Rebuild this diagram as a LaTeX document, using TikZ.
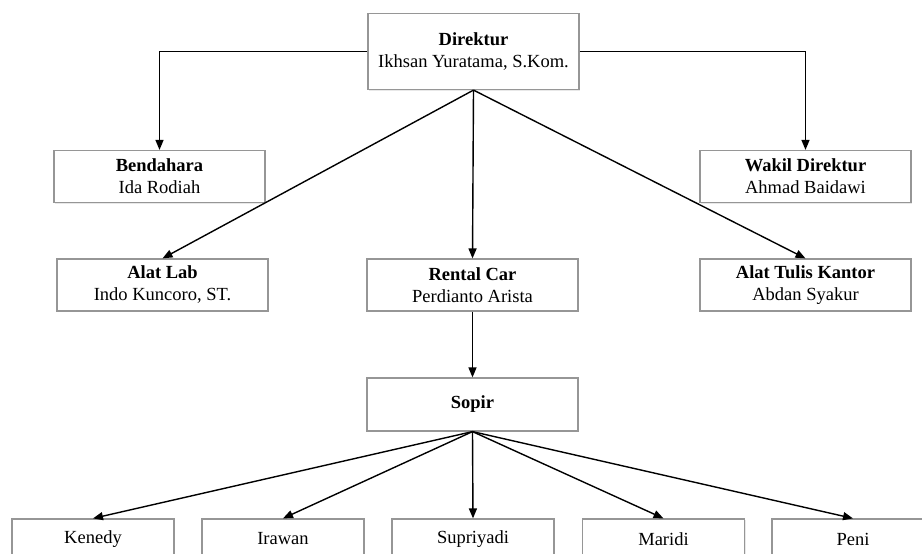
\documentclass[tikz,border=0pt]{standalone}
\usepackage{fontspec}
\setmainfont{Liberation Serif}
\usetikzlibrary{arrows.meta,shadows}
\definecolor{boxline}{RGB}{150,150,150}
\tikzset{
  orgbox/.style={draw=boxline, line width=1.2pt, fill=white, rectangle,
    minimum width=211pt, minimum height=52pt, align=center, inner sep=0pt,
    font=\fontsize{18.5}{22}\selectfont,
    drop shadow={opacity=0.18, shadow xshift=1.2pt, shadow yshift=-1.2pt}},
  staffbox/.style={orgbox, minimum width=162pt, minimum height=40pt},
  link/.style={line width=1.4pt, -{Triangle[length=10pt,width=8pt]}}
}
\begin{document}
\begin{tikzpicture}[x=1pt,y=-1pt]
  \useasboundingbox (0,0) rectangle (922,554);
  % management
  \node[orgbox, minimum height=76pt] (dir) at (473.5,51.5) {\textbf{Direktur}\\Ikhsan Yuratama, S.Kom.};
  \node[orgbox] (bend) at (159.5,176.5) {\textbf{Bendahara}\\Ida Rodiah};
  \node[orgbox] (wakil) at (805.5,176.5) {\textbf{Wakil Direktur}\\Ahmad Baidawi};
  % divisions
  \node[orgbox] (lab) at (162.5,285) {\textbf{Alat Lab}\\Indo Kuncoro, ST.};
  \node[orgbox] (rental) at (472.5,285) {\textbf{Rental Car}\\Perdianto Arista};
  \node[orgbox] (atk) at (805.5,285) {\textbf{Alat Tulis Kantor}\\Abdan Syakur};
  \node[orgbox, minimum height=53pt] (sopir) at (472.5,404.5) {\textbf{Sopir}};
  % drivers
  \node[staffbox] (kenedy) at (93,539) {Kenedy};
  \node[staffbox] (irawan) at (283,539) {Irawan};
  \node[staffbox] (supri) at (473,539) {Supriyadi};
  \node[staffbox] (maridi) at (663.5,539) {Maridi};
  \node[staffbox] (peni) at (853,539) {Peni};
  % connectors
  \draw[link] (dir.west) -| (bend.north);
  \draw[link] (dir.east) -| (wakil.north);
  \draw[link] (dir.south) -- (lab.north);
  \draw[link] (dir.south) -- (rental.north);
  \draw[link] (dir.south) -- (atk.north);
  \draw[link] (rental.south) -- (sopir.north);
  \foreach \d in {kenedy,irawan,supri,maridi,peni}
    \draw[link] (sopir.south) -- (\d.north);
\end{tikzpicture}
\end{document}
